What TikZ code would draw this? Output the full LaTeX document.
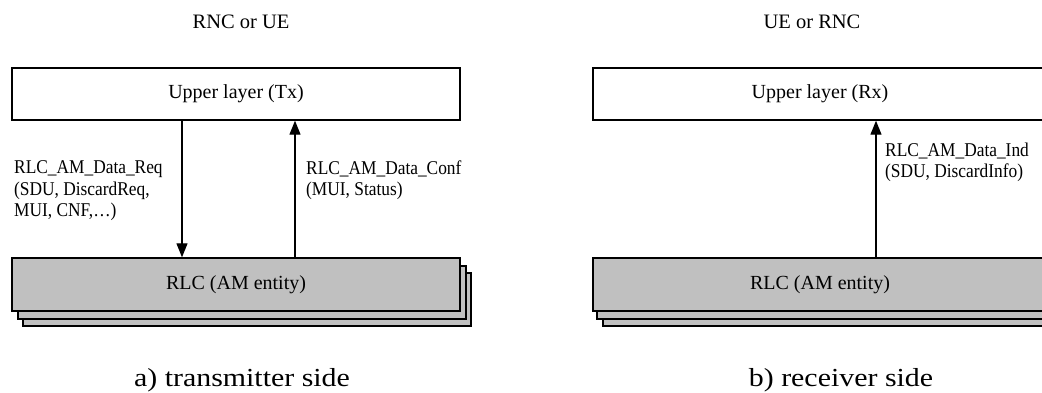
\documentclass[tikz,border=0pt]{standalone}
\usepackage{fontspec}
\setmainfont{Liberation Serif}
\newfontfamily\labfont[FakeStretch=0.89]{Liberation Serif}
\newfontfamily\capfont[FakeStretch=1.15]{Liberation Serif}
\usetikzlibrary{arrows.meta}
\definecolor{rlcgray}{RGB}{192,192,192}
\begin{document}
\begin{tikzpicture}[x=1pt,y=-1pt,
  layerbox/.style={draw=black, line width=1.4pt, fill=white, minimum height=52pt, inner sep=0pt, font=\fontsize{20}{24}\selectfont},
  rlcbox/.style={draw=black, line width=1.4pt, fill=rlcgray, minimum height=53pt, inner sep=0pt, font=\fontsize{20}{24}\selectfont},
  lab/.style={inner sep=0pt, anchor=north west, align=left, font=\labfont\fontsize{19.5}{21.5}\selectfont},
  toptitle/.style={inner sep=0pt, font=\fontsize{20.5}{24}\selectfont},
  caption/.style={inner sep=0pt, font=\capfont\fontsize{26}{30}\selectfont},
  arr/.style={line width=1.2pt, -{Triangle[length=14pt,width=11pt]}}
]
\useasboundingbox (0,0) rectangle (1042,392);

% ---------- left panel ----------
\node[toptitle] (titleA) at (241,22) {RNC or UE};
\node[layerbox, minimum width=448pt] (upTx) at (236,94) {Upper layer (Tx)};
\node[rlcbox, minimum width=448pt] (rlcTx3) at (247,299.5) {};
\node[rlcbox, minimum width=448pt] (rlcTx2) at (242,292.5) {};
\node[rlcbox, minimum width=448pt] (rlcTx) at (236,284.5) {RLC (AM entity)};
\draw[arr] ([xshift=-54pt]upTx.south) -- ([xshift=-54pt]rlcTx.north);
\draw[arr] ([xshift=59pt]rlcTx.north) -- ([xshift=59pt]upTx.south);
\node[lab] (reqlab) at (14,160.5) {RLC\_AM\_Data\_Req\\(SDU, DiscardReq,\\MUI, CNF,\dots)};
\node[lab] (conflab) at (306,160.5) {RLC\_AM\_Data\_Conf\\(MUI, Status)};
\node[caption] (capA) at (242,380) {a) transmitter side};

% ---------- right panel ----------
\node[toptitle] (titleB) at (812,22) {UE or RNC};
\node[layerbox, minimum width=454pt] (upRx) at (820,94) {Upper layer (Rx)};
\node[rlcbox, minimum width=454pt] (rlcRx3) at (830,299.5) {};
\node[rlcbox, minimum width=454pt] (rlcRx2) at (824,292.5) {};
\node[rlcbox, minimum width=454pt] (rlcRx) at (820,284.5) {RLC (AM entity)};
\draw[arr] ([xshift=56pt]rlcRx.north) -- ([xshift=56pt]upRx.south);
\node[lab] (indlab) at (885,142.5) {RLC\_AM\_Data\_Ind\\(SDU, DiscardInfo)};
\node[caption] (capB) at (841,380) {b) receiver side};
\end{tikzpicture}
\end{document}
